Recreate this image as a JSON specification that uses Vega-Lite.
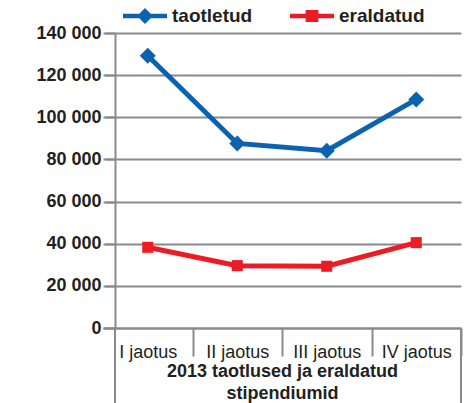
{
  "$schema": "https://vega.github.io/schema/vega-lite/v6.json",
  "width": 346,
  "height": 295,
  "autosize": "none",
  "padding": {"left": 115, "top": 33, "right": 6, "bottom": 75},
  "background": "white",
  "config": {
    "locale": {"number": {"decimal": ",", "thousands": " ", "grouping": [3], "currency": ["", ""]}},
    "view": {"stroke": null},
    "font": "Liberation Sans"
  },
  "data": {
    "values": [
      {"jaotus": "I jaotus", "series": "taotletud", "value": 129200},
      {"jaotus": "II jaotus", "series": "taotletud", "value": 87600},
      {"jaotus": "III jaotus", "series": "taotletud", "value": 84100},
      {"jaotus": "IV jaotus", "series": "taotletud", "value": 108500},
      {"jaotus": "I jaotus", "series": "eraldatud", "value": 38300},
      {"jaotus": "II jaotus", "series": "eraldatud", "value": 29600},
      {"jaotus": "III jaotus", "series": "eraldatud", "value": 29300},
      {"jaotus": "IV jaotus", "series": "eraldatud", "value": 40500}
    ]
  },
  "layer": [
    {
      "mark": {"type": "line", "strokeWidth": 5},
      "encoding": {
        "x": {
          "field": "jaotus", "type": "nominal",
          "scale": {"type": "band", "domain": ["I jaotus", "II jaotus", "III jaotus", "IV jaotus"], "range": [-12, 346], "paddingInner": 0, "paddingOuter": 0},
          "axis": {
            "title": ["2013 taotlused ja eraldatud", "stipendiumid"],
            "labelAngle": 0,
            "tickBand": "extent",
            "tickSize": 28,
            "tickColor": {"condition": {"test": "datum.index < 0", "value": "transparent"}, "value": "#8a8a8e"},
            "tickWidth": 2,
            "domainColor": "#8a8a8e",
            "domainWidth": 2,
            "labelFont": "Liberation Sans",
            "labelFontSize": 18,
            "labelColor": "#231f20",
            "labelPadding": -13,
            "titleFont": "Liberation Sans",
            "titleFontSize": 18,
            "titleFontWeight": "bold",
            "titleColor": "#231f20",
            "titleLineHeight": 22,
            "titlePadding": 1,
            "grid": false
          }
        },
        "y": {
          "field": "value", "type": "quantitative",
          "scale": {"domain": [0, 140000]},
          "axis": {
            "title": null,
            "values": [0, 20000, 40000, 60000, 80000, 100000, 120000, 140000],
            "format": ",d",
            "labelFont": "Liberation Sans",
            "labelFontSize": 18,
            "labelFontWeight": "bold",
            "labelColor": "#231f20",
            "labelPadding": 4,
            "tickSize": 10,
            "tickColor": "#8a8a8e",
            "tickWidth": 2,
            "domainColor": "#8a8a8e",
            "domainWidth": 2,
            "grid": true,
            "gridColor": "#8a8a8e",
            "gridWidth": 2
          }
        },
        "color": {
          "field": "series", "type": "nominal",
          "scale": {"domain": ["taotletud", "eraldatud"], "range": ["#0b63b0", "#ed1c24"]},
          "legend": {
            "orient": "none",
            "legendX": 8,
            "legendY": -39,
            "direction": "horizontal",
            "title": null,
            "symbolSize": 1936,
            "labelFont": "Liberation Sans",
            "labelFontSize": 19,
            "labelFontWeight": "bold",
            "labelColor": "#231f20",
            "labelOffset": 5,
            "columnPadding": 37,
            "encode": {
              "symbols": {
                "update": {
                  "shape": {"signal": "datum.value === 'taotletud' ? 'M-1,-0.1H1V0.1H-1Z M0,-0.36L0.36,0L0,0.36L-0.36,0Z' : 'M-1,-0.1H1V0.1H-1Z M-0.29,-0.27H0.29V0.27H-0.29Z'"},
                  "fill": {"signal": "datum.value === 'taotletud' ? '#0b63b0' : '#ed1c24'"},
                  "stroke": {"value": "transparent"},
                  "strokeWidth": {"value": 0},
                  "opacity": {"value": 1}
                }
              }
            }
          }
        }
      }
    },
    {
      "transform": [{"filter": "datum.series === 'taotletud'"}],
      "mark": {"type": "point", "filled": true, "opacity": 1, "size": 256, "shape": "diamond"},
      "encoding": {
        "x": {"field": "jaotus", "type": "nominal"},
        "y": {"field": "value", "type": "quantitative"},
        "color": {"field": "series", "type": "nominal"}
      }
    },
    {
      "transform": [{"filter": "datum.series === 'eraldatud'"}],
      "mark": {"type": "point", "filled": true, "opacity": 1, "size": 256, "shape": "M-0.69,-0.69H0.69V0.69H-0.69Z"},
      "encoding": {
        "x": {"field": "jaotus", "type": "nominal"},
        "y": {"field": "value", "type": "quantitative"},
        "color": {"field": "series", "type": "nominal"}
      }
    },
    {
      "data": {"values": [{"jaotus": "I jaotus"}]},
      "mark": {"type": "rule", "color": "#8a8a8e", "strokeWidth": 2},
      "encoding": {
        "x": {"field": "jaotus", "type": "nominal", "bandPosition": 0.134},
        "y": {"datum": 0},
        "y2": {"datum": -36000}
      }
    },
    {
      "data": {"values": [{"jaotus": "IV jaotus"}]},
      "mark": {"type": "rule", "color": "#8a8a8e", "strokeWidth": 2},
      "encoding": {
        "x": {"field": "jaotus", "type": "nominal", "bandPosition": 1},
        "y": {"datum": 0},
        "y2": {"datum": -36000}
      }
    }
  ]
}
